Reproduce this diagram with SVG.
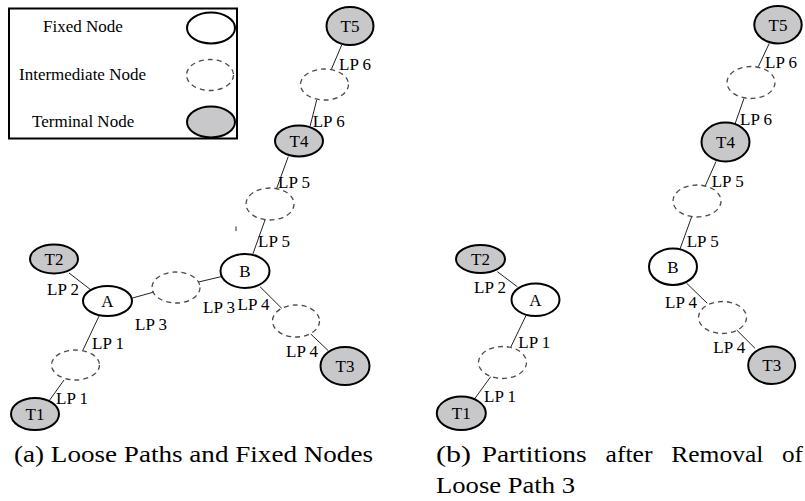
<svg xmlns="http://www.w3.org/2000/svg" width="805" height="501" viewBox="0 0 805 501" font-family="'Liberation Serif', 'Times New Roman', Times, serif">
<style>
.fixed{fill:#fff;stroke:#000;stroke-width:2}
.inter{fill:none;stroke:#4a4a4a;stroke-width:1.3;stroke-dasharray:5 4}
.term{fill:#c8c8ca;stroke:#000;stroke-width:2}
.lbl{font-size:17px;fill:#000}
.nl{font-size:17px;fill:#000;text-anchor:middle}
.cap{font-size:23px;fill:#000}
.edge line{stroke:#222;stroke-width:1}
</style>
<rect width="805" height="501" fill="#fff"/>

<g id="legend">
  <rect x="9" y="8.5" width="228" height="130" fill="#fff" stroke="#000" stroke-width="2"/>
  <text class="lbl" x="43" y="32">Fixed Node</text>
  <text class="lbl" x="19" y="80">Intermediate Node</text>
  <text class="lbl" x="32" y="126.5">Terminal Node</text>
  <ellipse class="fixed" cx="211" cy="28" rx="24" ry="15.5"/>
  <ellipse class="inter" cx="210" cy="75" rx="23.5" ry="15.5"/>
  <ellipse class="term" cx="211" cy="122" rx="24" ry="15.5"/>
</g>

<g id="connectors" class="edge">
  <line x1="341.7" y1="45" x2="331.5" y2="69"/>
  <line x1="316.7" y1="100" x2="310" y2="126.5"/>
  <line x1="288.3" y1="156.5" x2="276.7" y2="188.3"/>
  <line x1="265" y1="220" x2="252.7" y2="254.5"/>
  <line x1="221" y1="276.7" x2="198.5" y2="282"/>
  <line x1="154" y1="292" x2="132.5" y2="298"/>
  <line x1="91" y1="290" x2="69" y2="273"/>
  <line x1="99.5" y1="315" x2="83" y2="350"/>
  <line x1="64" y1="380" x2="49" y2="401"/>
  <line x1="260" y1="286.7" x2="281.7" y2="308.3"/>
  <line x1="310.7" y1="334" x2="328.3" y2="350.7"/>
  <line x1="236" y1="226.5" x2="236" y2="231"/>
  <line x1="769.3" y1="43.3" x2="758.3" y2="66.7"/>
  <line x1="744" y1="98.3" x2="735" y2="124"/>
  <line x1="716" y1="161.5" x2="705" y2="186.5"/>
  <line x1="691.7" y1="216.7" x2="680" y2="249"/>
  <line x1="686.7" y1="283.3" x2="707.3" y2="303.3"/>
  <line x1="736.7" y1="330" x2="755" y2="348.3"/>
  <line x1="497.3" y1="271.7" x2="517.3" y2="286.7"/>
  <line x1="526" y1="315.5" x2="510.7" y2="347.3"/>
  <line x1="490.7" y1="376.7" x2="475" y2="398.3"/>
</g>

<g id="edge-labels">
  <text class="lbl" x="339" y="69.5">LP 6</text>
  <text class="lbl" x="312.7" y="127">LP 6</text>
  <text class="lbl" x="278" y="188">LP 5</text>
  <text class="lbl" x="258" y="247">LP 5</text>
  <text class="lbl" x="203" y="313">LP 3</text>
  <text class="lbl" x="237.5" y="310">LP 4</text>
  <text class="lbl" x="286" y="356.7">LP 4</text>
  <text class="lbl" x="47" y="295">LP 2</text>
  <text class="lbl" x="135" y="330">LP 3</text>
  <text class="lbl" x="92" y="349">LP 1</text>
  <text class="lbl" x="56" y="404">LP 1</text>
  <text class="lbl" x="765" y="68.3">LP 6</text>
  <text class="lbl" x="740" y="125">LP 6</text>
  <text class="lbl" x="711.7" y="186.7">LP 5</text>
  <text class="lbl" x="686.7" y="246.7">LP 5</text>
  <text class="lbl" x="665" y="308.3">LP 4</text>
  <text class="lbl" x="713.3" y="353.3">LP 4</text>
  <text class="lbl" x="474" y="293.3">LP 2</text>
  <text class="lbl" x="518.3" y="348.3">LP 1</text>
  <text class="lbl" x="484" y="401.7">LP 1</text>
</g>

<g id="a-T5"><ellipse class="term" cx="350" cy="26" rx="23.5" ry="19"/><text class="nl" x="350" y="32">T5</text></g>
<g id="a-I6"><ellipse class="inter" cx="324.5" cy="84.5" rx="24" ry="15.5"/></g>
<g id="a-T4"><ellipse class="term" cx="299" cy="141" rx="24" ry="15.5"/><text class="nl" x="299" y="147">T4</text></g>
<g id="a-I5"><ellipse class="inter" cx="270" cy="204" rx="24" ry="16"/></g>
<g id="a-B"><ellipse class="fixed" cx="245" cy="271" rx="24.5" ry="17"/><text class="nl" x="245" y="277">B</text></g>
<g id="a-I3"><ellipse class="inter" cx="176" cy="287.5" rx="24" ry="15.5"/></g>
<g id="a-A"><ellipse class="fixed" cx="107.5" cy="301" rx="24.5" ry="15"/><text class="nl" x="107.5" y="307">A</text></g>
<g id="a-T2"><ellipse class="term" cx="54" cy="259" rx="24" ry="14.5"/><text class="nl" x="54" y="265">T2</text></g>
<g id="a-I1"><ellipse class="inter" cx="75.5" cy="365" rx="24" ry="15"/></g>
<g id="a-T1"><ellipse class="term" cx="35" cy="414" rx="24" ry="16"/><text class="nl" x="35" y="420">T1</text></g>
<g id="a-I4"><ellipse class="inter" cx="296" cy="321" rx="23.5" ry="16"/></g>
<g id="a-T3"><ellipse class="term" cx="345" cy="366" rx="24.5" ry="19"/><text class="nl" x="345" y="372">T3</text></g>

<g id="b-T5"><ellipse class="term" cx="778" cy="24.7" rx="23.7" ry="18.7"/><text class="nl" x="778" y="30.7">T5</text></g>
<g id="b-I6"><ellipse class="inter" cx="751" cy="82.5" rx="24" ry="16"/></g>
<g id="b-T4"><ellipse class="term" cx="725.5" cy="142" rx="24" ry="19.5"/><text class="nl" x="725.5" y="148">T4</text></g>
<g id="b-I5"><ellipse class="inter" cx="697" cy="201" rx="24" ry="16"/></g>
<g id="b-B"><ellipse class="fixed" cx="673" cy="266.7" rx="24" ry="18.3"/><text class="nl" x="673" y="272.7">B</text></g>
<g id="b-I4"><ellipse class="inter" cx="722.5" cy="317.5" rx="24" ry="16"/></g>
<g id="b-T3"><ellipse class="term" cx="771.7" cy="365.3" rx="23.5" ry="18.7"/><text class="nl" x="771.7" y="371.3">T3</text></g>
<g id="b-T2"><ellipse class="term" cx="480.5" cy="259" rx="24.5" ry="14"/><text class="nl" x="480.5" y="265">T2</text></g>
<g id="b-A"><ellipse class="fixed" cx="535.5" cy="299.7" rx="24" ry="16.3"/><text class="nl" x="535.5" y="305.7">A</text></g>
<g id="b-I1"><ellipse class="inter" cx="502.5" cy="362.5" rx="24" ry="16"/></g>
<g id="b-T1"><ellipse class="term" cx="461.3" cy="413.3" rx="24.5" ry="16.7"/><text class="nl" x="461.3" y="419.3">T1</text></g>

<g id="captions">
  <text class="cap" x="14" y="462" textLength="359" lengthAdjust="spacingAndGlyphs">(a) Loose Paths and Fixed Nodes</text>
  <text class="cap" y="462"><tspan x="436" textLength="35" lengthAdjust="spacingAndGlyphs">(b)</tspan><tspan x="481.7" textLength="105" lengthAdjust="spacingAndGlyphs">Partitions</tspan><tspan x="605.5" textLength="47" lengthAdjust="spacingAndGlyphs">after</tspan><tspan x="671.3" textLength="92" lengthAdjust="spacingAndGlyphs">Removal</tspan><tspan x="782" textLength="21" lengthAdjust="spacingAndGlyphs">of</tspan></text>
  <text class="cap" x="436" y="493" textLength="139" lengthAdjust="spacingAndGlyphs">Loose Path 3</text>
</g>
</svg>
